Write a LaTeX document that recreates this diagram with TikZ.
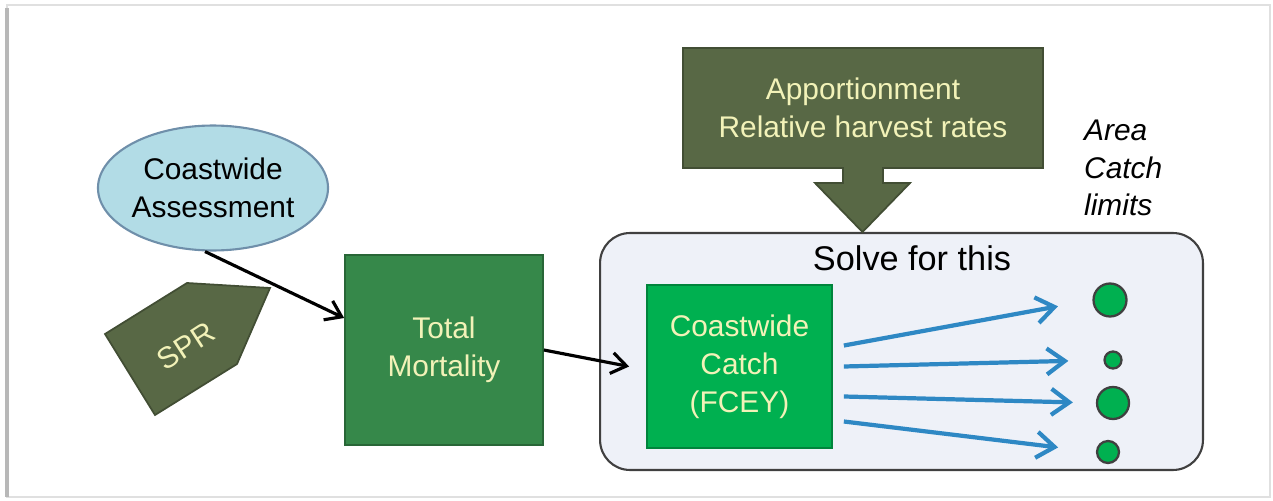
\documentclass[tikz,border=0pt]{standalone}
\usepackage{fontspec}
\setmainfont{Liberation Sans}
\usetikzlibrary{shapes.geometric, arrows.meta}
\definecolor{paleyellow}{HTML}{F2F2B8}
\definecolor{darkolive}{HTML}{586845}
\definecolor{mortgreen}{HTML}{36884A}
\definecolor{catchgreen}{HTML}{00B050}
\definecolor{skyblue}{HTML}{B2DCE6}
\definecolor{steelline}{HTML}{6F8FAA}
\definecolor{flowblue}{HTML}{2E88C4}
\definecolor{panel}{HTML}{EEF1F8}

\begin{document}
\begin{tikzpicture}[x=0.02cm, y=-0.02cm,
txt/.style={text=paleyellow, font=\fontsize{17}{21.5}\selectfont, align=center},
box/.style={draw=#1!75!black, fill=#1, line width=1pt, inner sep=0pt},
link/.style={-{Straight Barb[length=0.3cm, width=0.42cm]}, line width=1.8pt},
flow/.style={-{Straight Barb[length=0.36cm, width=0.52cm]}, flowblue, line width=2.4pt},
area/.style={circle, draw=black!75, fill=catchgreen, line width=1.3pt, inner sep=0pt}]
\useasboundingbox (0,0) rectangle (1273,500);
\draw [black!12, line width=1.5pt] (7,5) rectangle (1270,497);
\draw [black!28, line width=2pt] (7,8) -- (7,497);

\node (assess) at (213,188) [ellipse, draw=steelline, fill=skyblue, line width=1.2pt,
  minimum width=4.12cm, minimum height=2.5cm, inner sep=0pt, align=center,
  font=\fontsize{17}{21.5}\selectfont] {Coastwide\\Assessment};

\draw [box=darkolive] (187,283) -- (270,288) -- (237,364) -- (155,415) -- (105,334) -- cycle;
\node (spr) at (186,346) [txt, rotate=33] {SPR};

\node (mort) at (444,350) [box=mortgreen, minimum width=3.96cm, minimum height=3.8cm, txt] {Total\\Mortality};

\node (panel) at (901.5,351.5) [draw=black!75, fill=panel, line width=1.2pt, rounded corners=0.6cm,
  minimum width=12.06cm, minimum height=4.74cm] {};
\node (solve) at (912,258) [font=\fontsize{19.5}{23}\selectfont] {Solve for this};

\node (catch) at (739.5,366.5) [box=catchgreen, minimum width=3.7cm, minimum height=3.26cm, txt] {Coastwide\\Catch\\(FCEY)};

\node (app) at (863,108) [box=darkolive, minimum width=7.2cm, minimum height=2.4cm, txt] {Apportionment\\Relative harvest rates};
\draw [box=darkolive] (843,167) -- (843,183) -- (815,183) -- (862.5,232) -- (910,183) -- (883,183) -- (883,167);

\node (limits) at (1078,168) [anchor=west, align=left, font=\fontsize{17}{21.5}\itshape] {Area\\Catch\\limits};

\node (c1) at (1110,300) [area, minimum size=0.66cm] {};
\node (c2) at (1113,360) [area, minimum size=0.34cm] {};
\node (c3) at (1113,403) [area, minimum size=0.64cm] {};
\node (c4) at (1108,452) [area, minimum size=0.44cm] {};

\draw [link] ([xshift=-0.16cm]assess.south) -- ([yshift=0.64cm]mort.west);
\draw [link] (mort.east) -- ([xshift=-0.34cm]catch.west);

\draw [flow, shorten >=0.7cm] ([shift={(0.22cm,0.42cm)}]catch.east) -- (c1.west);
\draw [flow, shorten >=0.7cm] ([xshift=0.22cm]catch.east) -- (c2.west);
\draw [flow, shorten >=0.46cm] ([shift={(0.22cm,-0.6cm)}]catch.east) -- (c3.west);
\draw [flow, shorten >=0.76cm] ([shift={(0.22cm,-1.1cm)}]catch.east) -- (c4.west);
\end{tikzpicture}
\end{document}
